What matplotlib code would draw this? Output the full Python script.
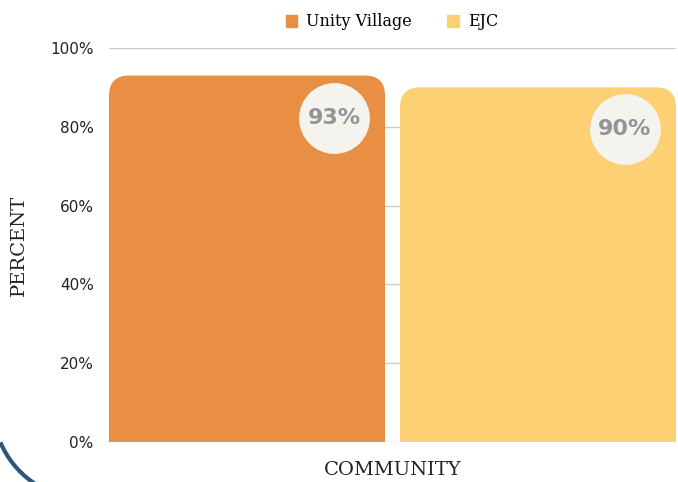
import matplotlib.pyplot as plt
import numpy as np
from matplotlib.patches import FancyBboxPatch, Arc
from matplotlib.transforms import ScaledTranslation, IdentityTransform

communities = ["Unity Village", "EJC"]
percent = [93, 90]
labels = ["93%", "90%"]
colors = ["#e88f44", "#fdd073"]
yticks = [0, 20, 40, 60, 80, 100]

fig = plt.figure(figsize=(6.78, 4.82), dpi=100)
ax = fig.add_axes([109/678, 40/482, 567/678, 394/482])

# x in pixel-like units so corner rounding stays circular
width = 276
xpos = [138, 429]
bars = ax.bar(xpos, percent, width=width, color=colors, zorder=2)
ax.set_xlim(0, 567)
ax.set_ylim(0, 100)

yscale = 100 / 394  # data units per pixel
for b, c in zip(bars, colors):
    b.set_visible(False)
    x0 = b.get_x()
    h = b.get_height()
    p = FancyBboxPatch((x0, -10), width, h + 10,
                       boxstyle="round,pad=0,rounding_size=20",
                       mutation_aspect=yscale, fc=c, ec="none", zorder=2)
    ax.add_patch(p)

# value badges
for b, lab in zip(bars, labels):
    xr = b.get_x() + b.get_width()
    off = ScaledTranslation(-51/100, -42/100, fig.dpi_scale_trans)
    tr = ax.transData + off
    ax.plot([xr], [b.get_height()], marker="o", ms=51, mfc="#f4f3ee",
            mec="none", transform=tr, zorder=3, clip_on=False)
    ax.text(xr, b.get_height(), lab, transform=tr, ha="center", va="center",
            fontsize=16, fontweight="bold", color="#939398",
            family="DejaVu Sans", zorder=4)

ax.set_yticks(yticks)
ax.set_yticklabels([f"{v}%" for v in yticks], fontsize=11, color="#222222")
ax.set_xticks([])
ax.tick_params(axis="y", length=0, pad=11)
ax.grid(axis="y", color="#cccccc", lw=1, zorder=0)
for s in ax.spines.values():
    s.set_visible(False)

ax.set_xlabel("COMMUNITY", family="DejaVu Serif", fontsize=14, color="#222222", labelpad=14)
ax.set_ylabel("PERCENT", family="DejaVu Serif", fontsize=14, color="#222222", labelpad=16)

handles = [plt.Rectangle((0, 0), 1, 1, color=c) for c in colors]
fig.legend(handles, communities, loc="center", bbox_to_anchor=(392/678, 1 - 22/482),
           ncol=2, frameon=False, handlelength=0.7, handleheight=0.7,
           columnspacing=2.2, handletextpad=0.6,
           prop={"family": "DejaVu Serif", "size": 11.5})

# decorative arc at bottom left
arc = Arc((86, 76), 186, 186, theta1=203, theta2=265, color="#2d5777",
          lw=3, transform=IdentityTransform())
fig.patches.append(arc)

fig.savefig("out.png", dpi=100)
